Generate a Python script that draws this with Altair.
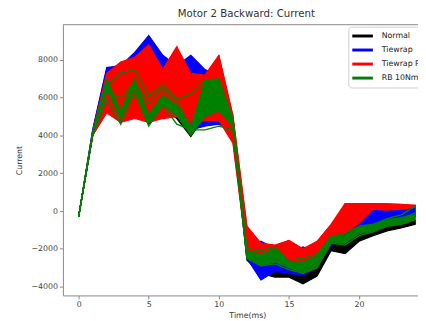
import altair as alt
import pandas as pd

T = list(range(25))
CLASSES = ["Normal", "Tiewrap", "Tiewrap RB", "RB 10Nm"]
COLORS = ["#000000", "#0000ff", "#ff0000", "#008000"]

# dense envelopes (min / max of many runs) per class
normal_lo = [-300, 4000, 6300, 4800, 6300, 4600, 5500, 4900, 3950, 5000, 5300, 4400, -2600, -3300, -3500, -3500, -3850, -3450, -2100, -2250, -1600, -1300, -1050, -900, -700]
normal_hi = [-300, 4100, 6900, 5400, 6900, 5300, 6100, 5600, 4500, 6800, 6800, 4900, -2000, -2300, -2000, -2700, -2600, -2500, -1600, -1500, -1000, -900, -700, -600, -500]
tiewrap_lo = [-300, 4000, 5600, 5000, 5600, 5000, 5600, 5000, 4300, 4500, 4600, 4200, -2500, -3650, -3200, -3300, -3400, -3000, -1800, -1400, -1000, -800, -600, -500, -300]
tiewrap_hi = [-300, 4300, 7600, 7700, 8400, 9300, 8250, 7700, 8250, 7500, 7200, 5000, -1900, -1600, -2000, -2200, -1900, -2200, -1400, -400, 0, 150, 200, 250, 300]
tiewraprb_lo = [-300, 4000, 5200, 4700, 4900, 4700, 4900, 5000, 4600, 4800, 4800, 3600, -2300, -2300, -2300, -2700, -2900, -2500, -1500, -1200, -650, 100, 50, 100, 200]
tiewraprb_hi = [-300, 4200, 7300, 7900, 8150, 8800, 7500, 8700, 7300, 7200, 8250, 5100, -800, -1700, -1800, -1550, -2000, -1600, -700, 400, 400, 400, 380, 350, 300]
rb10_lo = [-300, 4000, 6500, 4850, 6550, 4650, 5650, 5050, 4000, 5000, 5300, 4500, -2500, -2900, -2700, -3000, -3300, -3000, -1700, -1700, -1200, -1050, -800, -700, -450]
rb10_hi = [-300, 4150, 7000, 5300, 7000, 5100, 6150, 5600, 4400, 6900, 7000, 4900, -2100, -2300, -2000, -2700, -2700, -2400, -1350, -1300, -850, -750, -450, -350, -200]

# a few individual runs per class
normal_runs = [
    [-300, 4050, 6500, 5000, 6600, 4900, 5800, 5200, 4000, 6200, 6300, 4600, -2300, -2900, -3000, -3200, -3700, -3300, -2000, -2100, -1400, -1200, -950, -800, -650],
    [-300, 4100, 6800, 5500, 6900, 5600, 6200, 5500, 4700, 6700, 6700, 4800, -2100, -2500, -2200, -2800, -2900, -2700, -1700, -1700, -1200, -1000, -800, -700, -550],
]
tiewrap_runs = [
    [-300, 4300, 7500, 7600, 8300, 9200, 8200, 7600, 8200, 7400, 7100, 5000, -2000, -1700, -2100, -2300, -2000, -2300, -1500, -500, -100, 100, 150, 200, 250],
    [-300, 4100, 6200, 5600, 6500, 6000, 6300, 5800, 5000, 5300, 5200, 4700, -2400, -3500, -3100, -3200, -3300, -2900, -1700, -1300, -900, -700, -500, -400, -200],
]
tiewraprb_runs = [
    [-300, 4100, 7000, 7900, 7200, 8800, 7500, 8700, 7000, 7000, 8250, 5000, -800, -1800, -1900, -1550, -2100, -1700, -800, 400, 400, 400, 380, 350, 300],
    [-300, 4000, 5300, 4800, 5100, 4800, 5000, 5200, 4700, 5000, 5000, 3700, -2200, -2200, -2200, -2600, -2800, -2400, -1400, -1100, -500, 150, 100, 150, 220],
    [-300, 4150, 6500, 6800, 6900, 7600, 6500, 7600, 6300, 6200, 7200, 4500, -1500, -2000, -2000, -1900, -2400, -2000, -1100, 300, 300, 350, 330, 300, 280],
]
rb10_runs = [
    [-300, 4100, 6800, 5050, 6850, 4800, 5900, 5300, 4150, 6600, 6700, 4700, -2300, -2600, -2300, -2900, -3000, -2700, -1500, -1500, -1000, -900, -600, -500, -300],
    [-300, 4100, 6600, 7300, 7500, 6100, 6700, 5900, 6200, 6900, 7000, 4800, -2000, -2100, -1900, -2600, -2500, -2300, -1350, -1200, -800, -700, -400, -200, 250],
    [-300, 4000, 5900, 4600, 6300, 4500, 5600, 4600, 4300, 4300, 4500, 4300, -2500, -2900, -2800, -3100, -3300, -3000, -1700, -1800, -1300, -1100, -800, -700, -450],
    [-300, 4050, 6300, 6000, 6800, 5700, 6500, 5800, 4500, 5800, 6000, 4600, -2200, -2400, -2200, -2800, -2800, -2600, -1450, -1400, -950, -800, -500, -400, -100],
]

bands = {"Normal": (normal_lo, normal_hi), "Tiewrap": (tiewrap_lo, tiewrap_hi),
         "Tiewrap RB": (tiewraprb_lo, tiewraprb_hi), "RB 10Nm": (rb10_lo, rb10_hi)}
runs = {"Normal": normal_runs, "Tiewrap": tiewrap_runs,
        "Tiewrap RB": tiewraprb_runs, "RB 10Nm": rb10_runs}

band_rows, run_rows = [], []
for c in CLASSES:
    lo, hi = bands[c]
    for t, a, b in zip(T, lo, hi):
        band_rows.append({"t": t, "lo": a, "hi": b, "cls": c})
    for i, r in enumerate(runs[c]):
        for t, v in zip(T, r):
            run_rows.append({"t": t, "v": v, "cls": c, "run": f"{c}-{i}"})
band_df = pd.DataFrame(band_rows)
run_df = pd.DataFrame(run_rows)

W, H = 362, 276
xscale = alt.Scale(domain=[-1.12, 24.2], nice=False, zero=False)
yscale = alt.Scale(domain=[-4470, 9870], nice=False, zero=False)
xaxis = alt.Axis(values=[0, 5, 10, 15, 20], title="Time(ms)", titleX=188, titleY=16,
                 titleBaseline="top", format="d")
yaxis = alt.Axis(values=[-4000, -2000, 0, 2000, 4000, 6000, 8000], title="Current",
                 titleX=-44, titleY=138, titleBaseline="middle", format="d")
cscale = alt.Scale(domain=CLASSES, range=COLORS)
color = alt.Color("cls:N", scale=cscale,
                  legend=alt.Legend(orient="none", legendX=291, legendY=2, title=None,
                                    symbolType="M-2.1,0L2.1,0", symbolStrokeWidth=3, symbolSize=100,
                                    symbolOffset=5, labelOffset=13,
                                    labelFont="DejaVu Sans", labelFontSize=8, labelColor="#222",
                                    fillColor="white", strokeColor="#d0d0d0", padding=3,
                                    rowPadding=1.3, cornerRadius=3))

layers = []
for c in CLASSES:
    bd = band_df[band_df.cls == c]
    rd = run_df[run_df.cls == c]
    sw = 1.4 if c in ("RB 10Nm", "Normal") else 1.0
    layers.append(alt.Chart(bd).mark_area(clip=True, opacity=1, strokeWidth=1.2).encode(
        x=alt.X("t:Q", scale=xscale, axis=xaxis),
        y=alt.Y("lo:Q", scale=yscale, axis=yaxis),
        y2="hi:Q", color=color, stroke=alt.Stroke("cls:N", scale=cscale, legend=None)))
    layers.append(alt.Chart(rd).mark_line(clip=True, strokeWidth=sw).encode(
        x=alt.X("t:Q", scale=xscale, axis=xaxis),
        y=alt.Y("v:Q", scale=yscale, axis=yaxis),
        detail="run:N", color=color))

spine = alt.Chart(pd.DataFrame({"a": [0]})).mark_rule(color="#888", strokeWidth=1).encode(
    x=alt.value(0), x2=alt.value(W), y=alt.value(0))
layers.append(spine)

chart = alt.layer(*layers).properties(
    width=W, height=H,
    title=alt.TitleParams("Motor 2 Backward: Current", font="DejaVu Sans", fontSize=10.4,
                          fontWeight="normal", color="#333", anchor="middle", dx=6, offset=5),
    autosize=alt.AutoSizeParams(type="none"),
    padding={"left": 56, "top": 14, "right": 0, "bottom": 22},
).configure_view(stroke=None).configure_axis(
    grid=False, labelFont="DejaVu Sans", labelFontSize=8, labelColor="#444",
    titleFont="DejaVu Sans", titleFontSize=8, titleFontWeight="normal", titleColor="#333",
    domainColor="#888", tickColor="#888", tickSize=3.5, labelPadding=2,
)

chart.save("out.html", embed_options={"renderer": "svg", "actions": False})
